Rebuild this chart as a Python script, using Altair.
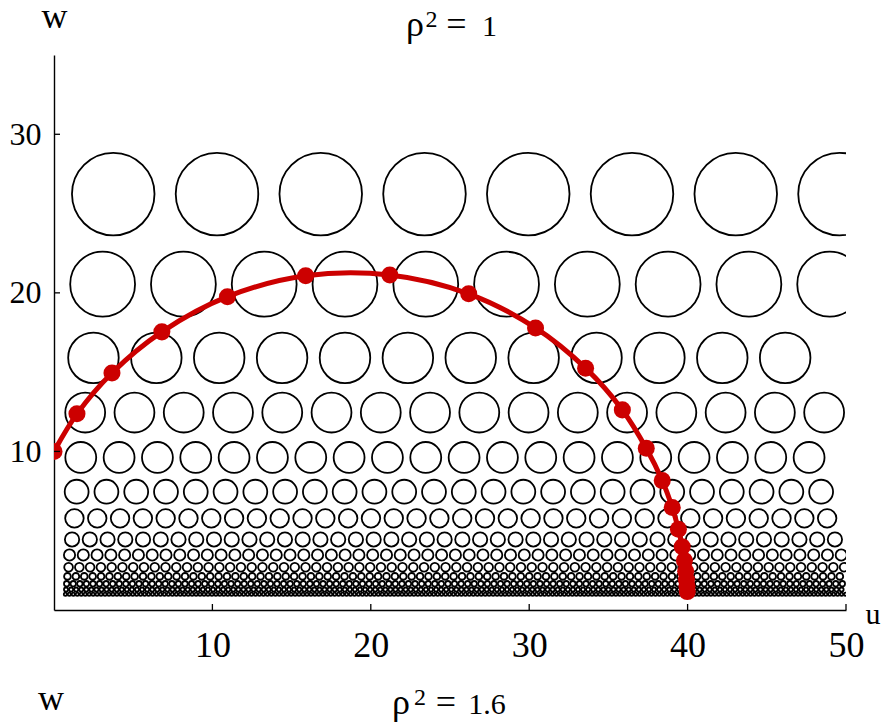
import math
import altair as alt
import numpy as np
import pandas as pd

# ---- data ----
# rows of black circles: height of centre (w), radius, first centre (u), spacing along u
row_w = [26.23, 20.55, 15.9, 12.45, 9.62, 7.46, 5.78, 4.45, 3.47, 2.70, 2.12, 1.66, 1.29, 1.0]
row_r = [2.94, 2.31, 1.80, 1.42, 1.10, 0.85, 0.66, 0.51, 0.40, 0.31, 0.24, 0.19, 0.147, 0.114]
row_x0 = [3.74, 3.07, 2.49, 1.97, 1.69, 1.43, 1.29, 1.14, 0.98, 0.92, 0.85, 0.80, 0.76, 0.72]
row_dx = [6.55, 5.10, 3.97, 3.11, 2.42, 1.88, 1.44, 1.12, 0.87, 0.68, 0.53, 0.415, 0.32, 0.25]

# red geodesic points
geo_u = [0.0, 1.45, 3.66, 6.81, 10.95, 15.89, 21.2, 26.18, 30.4, 33.56, 35.88,
         37.39, 38.4, 39.03, 39.42, 39.66, 39.8, 39.88, 39.93, 39.96, 39.98]
geo_w = [10.0, 12.37, 14.95, 17.54, 19.76, 21.08, 21.13, 19.94, 17.79, 15.25, 12.62,
         10.2, 8.16, 6.46, 5.09, 3.99, 3.12, 2.44, 1.91, 1.49, 1.16]

x_ticks = [10, 20, 30, 40, 50]
y_ticks = [10, 20, 30]
x_domain = [0, 50]
y_domain = [0, 35]

# ---- build tables ----
rows = []
for w, r, x0, dx in zip(row_w, row_r, row_x0, row_dx):
    for u in np.arange(x0, x_domain[1] + 1e-9, dx):
        rows.append({"u": float(u), "w": w, "r": r})
circ = pd.DataFrame(rows)
geo = pd.DataFrame({"u": geo_u, "w": geo_w, "i": list(range(len(geo_u)))})

W, H = 792, 555
ppu = W / (x_domain[1] - x_domain[0])
FONT = "Liberation Serif"
RED = "#CC0000"

xs = alt.Scale(domain=x_domain, nice=False, zero=False)
ys = alt.Scale(domain=y_domain, nice=False, zero=False)

x_axis = alt.Axis(values=x_ticks, ticks=False, tickSize=0, grid=False, domain=True,
                  domainColor="black", domainWidth=1.4, labelFont=FONT, labelFontSize=36,
                  labelColor="black", labelPadding=35, labelBaseline="middle",
                  labelFlush=False, labelOverlap=False,
                  title="u", titleFont=FONT, titleFontSize=30, titleFontWeight="normal",
                  titleColor="black", titleX=811, titleY=13, titleAlign="left",
                  titleBaseline="alphabetic")
y_axis = alt.Axis(values=y_ticks, ticks=False, tickSize=0, grid=False, domain=True,
                  domainColor="black", domainWidth=1.4, labelFont=FONT, labelFontSize=32,
                  labelColor="black", labelPadding=13, labelFlush=False, labelOverlap=False,
                  title="w", titleFont=FONT, titleFontSize=36, titleFontWeight="normal",
                  titleColor="black", titleAngle=0, titleX=0, titleY=-28,
                  titleAlign="center", titleBaseline="alphabetic")

circles = alt.Chart(circ).mark_point(
    shape="circle", filled=False, color="black", strokeWidth=1.8, opacity=1, clip=True
).encode(
    x=alt.X("u:Q", scale=xs, axis=x_axis),
    y=alt.Y("w:Q", scale=ys, axis=y_axis),
    size=alt.Size("r:Q", scale=alt.Scale(type="pow", exponent=2, domain=[0, 1],
                                          range=[0, math.pi * ppu ** 2]), legend=None),
)

line = alt.Chart(geo).mark_line(
    color=RED, strokeWidth=5, interpolate="catmull-rom", clip=True
).encode(x="u:Q", y="w:Q", order="i:Q")

dots = alt.Chart(geo).mark_circle(color=RED, size=290, opacity=1, clip=True).encode(
    x="u:Q", y="w:Q"
)

xt = alt.Chart(pd.DataFrame({"u": x_ticks})).mark_rule(color="black", strokeWidth=1.3).encode(
    x="u:Q", y=alt.value(H), y2=alt.value(H - 6)
)
yt = alt.Chart(pd.DataFrame({"w": y_ticks})).mark_rule(color="black", strokeWidth=1.3).encode(
    y="w:Q", x=alt.value(0), x2=alt.value(6)
)

dummy = pd.DataFrame({"a": [0]})


def label(txt, x, y, size, align="center"):
    return alt.Chart(dummy).mark_text(
        font=FONT, fontSize=size, align=align, baseline="alphabetic", color="black"
    ).encode(x=alt.value(x), y=alt.value(y), text=alt.value(txt))


texts = [
    label("ρ", 361, -19, 36),
    label("2", 377.5, -28, 24),
    label("=", 402.5, -19, 36),
    label("1", 435.5, -19, 30),
    # start of the next panel (cut off at the bottom)
    label("w", -3, 655, 36),
    label("ρ", 347, 659, 36),
    label("2", 366, 650, 24),
    label("=", 392, 659, 36),
    label("1.6", 433, 659, 30),
]

chart = alt.layer(circles, line, dots, xt, yt, *texts).properties(
    width=W, height=H,
    autosize=alt.AutoSizeParams(type="none"),
    padding={"left": 46, "top": 47, "right": 37, "bottom": 114},
).configure_view(stroke=None)

chart.save("out.html", embed_options={"renderer": "svg", "actions": False})
